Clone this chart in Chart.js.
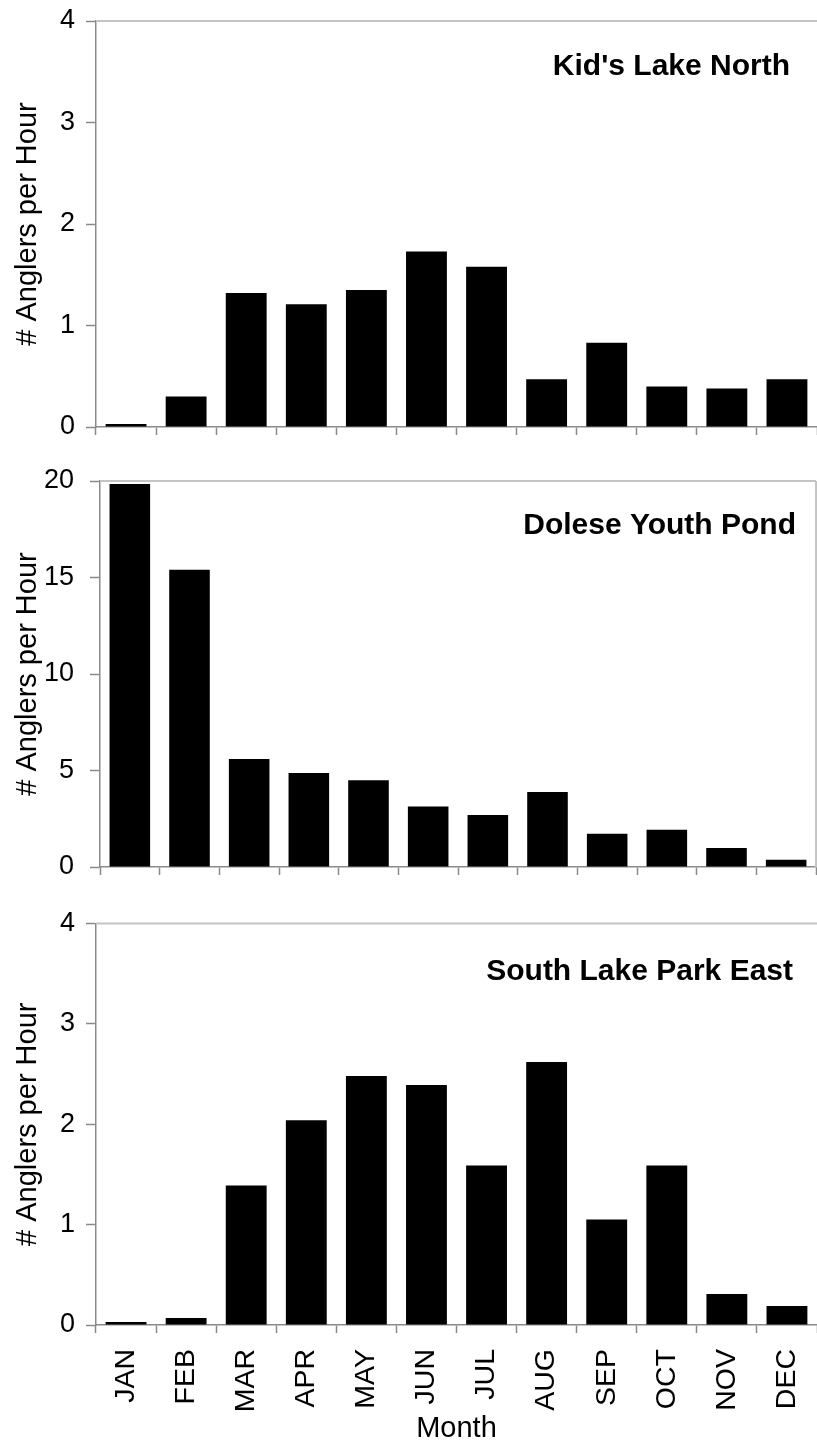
<!DOCTYPE html>
<html>
<head>
<meta charset="utf-8">
<script src="https://cdn.jsdelivr.net/npm/chart.js@4.4.1/dist/chart.umd.min.js"></script>
<style>
  html, body { margin: 0; padding: 0; background: #fff; overflow: hidden; }
  #wrap { position: relative; width: 817px; height: 1446px; overflow: hidden; }
  canvas { position: absolute; left: 0; }
</style>
</head>
<body>
<div id="wrap">
  <canvas id="kids" width="860" height="450" style="top:0px"></canvas>
  <canvas id="dolese" width="860" height="440" style="top:450px"></canvas>
  <canvas id="south" width="860" height="556" style="top:890px"></canvas>
</div>
<script>
// Monthly angler effort (# anglers per hour) at three community fishing waters
const months = ['JAN', 'FEB', 'MAR', 'APR', 'MAY', 'JUN', 'JUL', 'AUG', 'SEP', 'OCT', 'NOV', 'DEC'];

const kidsLakeNorth     = [0.03, 0.30, 1.32, 1.21, 1.35, 1.73, 1.58, 0.47, 0.83, 0.40, 0.38, 0.47];
const doleseYouthPond   = [19.85, 15.4, 5.6, 4.87, 4.5, 3.14, 2.69, 3.88, 1.72, 1.93, 0.98, 0.38];
const southLakeParkEast = [0.03, 0.07, 1.39, 2.04, 2.48, 2.39, 1.59, 2.62, 1.05, 1.59, 0.31, 0.19];

const panelNames = ["Kid's Lake North", 'Dolese Youth Pond', 'South Lake Park East'];
const yAxisTitle = '# Anglers per Hour';
const xAxisTitle = 'Month';

const FONT = "'Liberation Sans', Arial, Helvetica, sans-serif";
const AXIS_GREY = '#8a8a8a';
const FRAME_GREY = '#c4c4c4';

// Light frame along the top (and optionally right) edge of the plot area
const framePlugin = {
  id: 'frame',
  beforeDatasetsDraw(chart, args, opts) {
    const { ctx, chartArea: a } = chart;
    ctx.save();
    ctx.strokeStyle = FRAME_GREY;
    ctx.lineWidth = 2;
    ctx.beginPath();
    ctx.moveTo(a.left, a.top);
    ctx.lineTo(a.right, a.top);
    if (opts.right) {
      ctx.moveTo(a.right, a.top);
      ctx.lineTo(a.right, a.bottom);
    }
    ctx.stroke();
    ctx.restore();
  }
};

// Bold panel name placed inside the upper-right corner of the plot area
const panelNamePlugin = {
  id: 'panelName',
  afterDatasetsDraw(chart, args, opts) {
    const { ctx, chartArea: a } = chart;
    ctx.save();
    ctx.font = 'bold 30px ' + FONT;
    ctx.fillStyle = '#000';
    ctx.textAlign = 'right';
    ctx.textBaseline = 'alphabetic';
    ctx.fillText(opts.text, a.right - opts.dx, a.top + opts.dy);
    ctx.restore();
  }
};

function makePanel(id, values, cfg) {
  const canvas = document.getElementById(id);
  const chart = new Chart(canvas, {
    type: 'bar',
    data: {
      labels: months,
      datasets: [{
        data: values,
        backgroundColor: '#000',
        borderWidth: 0,
        barPercentage: 0.68,
        categoryPercentage: 1.0
      }]
    },
    plugins: [framePlugin, panelNamePlugin],
    options: {
      responsive: false,
      animation: false,
      devicePixelRatio: 1,
      layout: { padding: { top: cfg.padTop, right: cfg.padRight, left: 0, bottom: 0 } },
      plugins: {
        legend: { display: false },
        tooltip: { enabled: false },
        frame: { right: cfg.frameRight },
        panelName: { text: cfg.name, dx: cfg.nameDx, dy: cfg.nameDy }
      },
      scales: {
        x: {
          offset: true,
          grid: {
            display: true,
            drawOnChartArea: false,
            drawTicks: true,
            tickLength: 8,
            tickWidth: 1.5,
            tickColor: AXIS_GREY,
            offset: true
          },
          border: { display: true, color: AXIS_GREY, width: 1.5 },
          ticks: {
            display: cfg.showMonths,
            autoSkip: false,
            minRotation: 90,
            maxRotation: 90,
            padding: 16,
            color: '#000',
            font: { family: FONT, size: 28.5 }
          },
          title: {
            display: cfg.showMonths,
            text: xAxisTitle,
            color: '#000',
            font: { family: FONT, size: 29 },
            padding: { top: 0, bottom: 0 }
          },
          afterFit(scale) {
            scale.height = cfg.xHeight;
            scale.paddingLeft = 0;
            scale.paddingRight = 0;
          }
        },
        y: {
          min: 0,
          max: cfg.yMax,
          ticks: {
            stepSize: cfg.yStep,
            padding: cfg.tickPad,
            color: '#000',
            font: { family: FONT, size: 27 }
          },
          grid: {
            display: true,
            drawOnChartArea: false,
            drawTicks: true,
            tickLength: 10,
            tickWidth: 1.5,
            tickColor: AXIS_GREY
          },
          border: { display: true, color: AXIS_GREY, width: 1.5 },
          title: {
            display: true,
            text: yAxisTitle,
            color: '#000',
            font: { family: FONT, size: 29 },
            padding: { top: 11, bottom: 0 }
          },
          afterFit(scale) {
            scale.width = cfg.yWidth;
            scale.paddingTop = 0;
            scale.paddingBottom = 0;
          }
        }
      }
    }
  });

  // Settle the plot area on the wanted frame (canvas coordinates)
  const t = cfg.area;
  for (let i = 0; i < 6; i++) {
    const ys = chart.scales.y, xs = chart.scales.x;
    const top = ys.getPixelForValue(cfg.yMax);
    const bottom = ys.getPixelForValue(0);
    const dTop = t.top - top;
    const dBottom = bottom - t.bottom;
    const dLeft = t.left - xs.left;
    const dRight = xs.right - t.right;
    if (Math.abs(dTop) < 0.3 && Math.abs(dBottom) < 0.3 && Math.abs(dLeft) < 0.3 && Math.abs(dRight) < 0.3) break;
    cfg.padTop += dTop;
    cfg.xHeight += dBottom;
    cfg.yWidth += dLeft;
    cfg.padRight += dRight;
    chart.options.layout.padding = { top: cfg.padTop, right: cfg.padRight, left: 0, bottom: 0 };
    chart.update();
  }
  return chart;
}

makePanel('kids', kidsLakeNorth, {
  name: panelNames[0], nameDx: 27, nameDy: 54,
  padTop: 21, padRight: 43, xHeight: 23, yWidth: 96,
  area: { top: 21, bottom: 427, left: 96, right: 817 },
  yMax: 4, yStep: 1, tickPad: 11, showMonths: false, frameRight: false
});

makePanel('dolese', doleseYouthPond, {
  name: panelNames[1], nameDx: 20, nameDy: 53,
  padTop: 31, padRight: 44, xHeight: 23, yWidth: 100,
  area: { top: 31, bottom: 417, left: 100, right: 816 },
  yMax: 20, yStep: 5, tickPad: 16, showMonths: false, frameRight: true
});

makePanel('south', southLakeParkEast, {
  name: panelNames[2], nameDx: 24, nameDy: 56,
  padTop: 33.5, padRight: 43, xHeight: 121, yWidth: 96,
  area: { top: 33.5, bottom: 435, left: 96, right: 817 },
  yMax: 4, yStep: 1, tickPad: 11, showMonths: true, frameRight: false
});
</script>
</body>
</html>
